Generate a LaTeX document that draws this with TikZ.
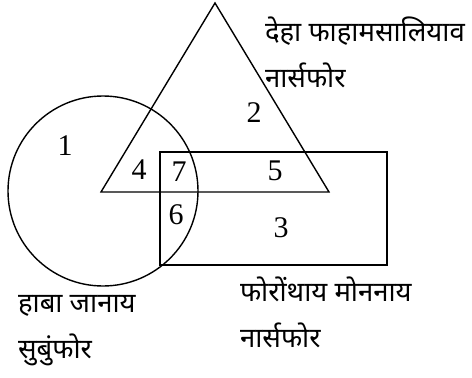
\documentclass[tikz,border=0pt]{standalone}
\usepackage{fontspec}
\setmainfont{Liberation Serif}
\newfontfamily\devfont[Script=Devanagari]{Noto Sans}
\tikzset{
  num/.style={font=\fontsize{30}{30}\selectfont},
  setlabel/.style={font=\devfont\fontsize{27.5}{46}\selectfont, anchor=west, align=left},
}
\begin{document}
\begin{tikzpicture}[x=1pt,y=-1pt,line width=1.4pt]
        \useasboundingbox (0,0) rectangle (472,378);
        \draw (103,191) circle (95);
        \draw (101,192) -- (215,3) -- (329,192) -- cycle;
        \draw (160,152) rectangle (387,265);
        \node[num] (n1) at (65,146) {1};
        \node[num] (n2) at (254,113) {2};
        \node[num] (n3) at (281,228) {3};
        \node[num] (n4) at (139,170) {4};
        \node[num] (n5) at (275,171) {5};
        \node[num] (n6) at (176,215) {6};
        \node[num] (n7) at (179,172) {7};
        \node[setlabel] (tri) at (261,52) {देहा फाहामसालियाव\\नार्सफोर};
        \node[setlabel] (circ) at (14,331) {हाबा जानाय\\सुबुंफोर};
        \node[setlabel] (rect) at (236,312) {फोरोंथाय मोननाय\\नार्सफोर};
    \end{tikzpicture}
\end{document}
